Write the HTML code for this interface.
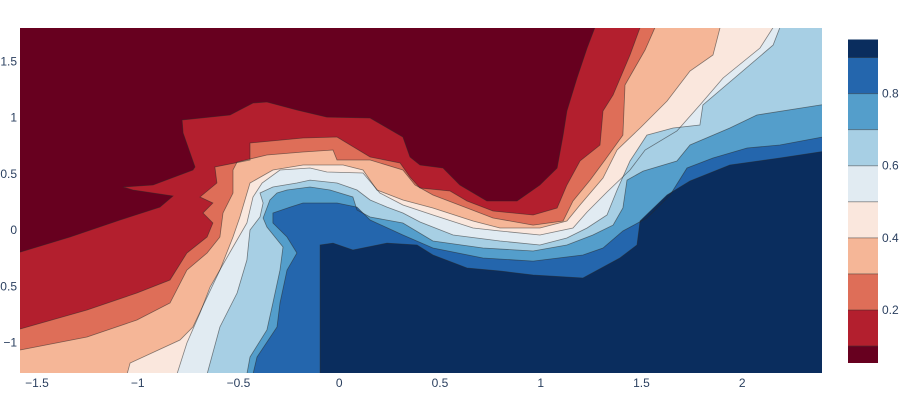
<!DOCTYPE html>
<html><head><meta charset="utf-8"><style>
html,body{margin:0;padding:0;background:#fff;}
svg{display:block;font-family:"Liberation Sans",Arial,sans-serif;}
</style></head><body>
<svg id="chart" width="915" height="407" viewBox="0 0 915 407" xmlns="http://www.w3.org/2000/svg">
<defs><clipPath id="plotclip"><rect x="20" y="28" width="802" height="345"/></clipPath></defs>
<rect x="20" y="28" width="802" height="345" fill="#67001f"/>
<g id="contours" clip-path="url(#plotclip)"></g>
<g id="xaxis"></g>
<g id="yaxis"></g>
<g id="colorbar"></g>
</svg>
<script>
const levels = [0.1,0.2,0.3,0.4,0.5,0.6,0.7,0.8,0.9];
const bandColors = ['#67001f','#b31f2e','#de6e58','#f5b697','#fae7dd','#e1ebf2','#a7cfe4','#549ecb','#2466ad','#0a2d5e'];
const zMin = 0.053, zMax = 0.95;
const xTicks = [-1.5,-1,-0.5,0,0.5,1,1.5,2];
const xTickLabels = ['\u22121.5','\u22121','\u22120.5','0','0.5','1','1.5','2'];
const yTicks = [-1,-0.5,0,0.5,1,1.5];
const yTickLabels = ['\u22121','\u22120.5','0','0.5','1','1.5'];
const cbTicks = [0.2,0.4,0.6,0.8];
// contour boundary curves, data coords: [x,y] pairs; region above level lies to lower-right
const c01 = [[-1.584,-0.196],[-1.336,-0.062],[-1.088,0.089],[-0.890,0.204],[-0.825,0.302],[-1.024,0.356],[-1.073,0.382],[-0.924,0.400],[-0.726,0.533],[-0.716,0.560],[-0.775,0.862],[-0.780,0.978],[-0.542,1.022],[-0.428,1.129],[-0.359,1.138],[-0.210,1.067],[-0.061,1.004],[0.153,0.996],[0.316,0.827],[0.351,0.649],[0.401,0.578],[0.515,0.551],[0.599,0.400],[0.733,0.258],[0.882,0.258],[0.996,0.400],[1.081,0.551],[1.111,0.844],[1.130,1.058],[1.180,1.351],[1.230,1.618],[1.269,1.8]];
const c02 = [[-1.584,-0.880],[-1.252,-0.711],[-1.004,-0.560],[-0.840,-0.444],[-0.756,-0.204],[-0.656,-0.062],[-0.627,0.062],[-0.676,0.151],[-0.627,0.240],[-0.691,0.293],[-0.607,0.418],[-0.617,0.560],[-0.443,0.622],[-0.443,0.773],[-0.180,0.818],[-0.011,0.827],[0.153,0.649],[0.302,0.596],[0.351,0.471],[0.401,0.373],[0.550,0.347],[0.634,0.258],[0.763,0.169],[0.962,0.133],[1.081,0.196],[1.130,0.400],[1.195,0.613],[1.294,0.756],[1.309,1.058],[1.359,1.200],[1.443,1.556],[1.493,1.8]];
const c03 = [[-1.584,-1.067],[-1.252,-0.951],[-1.004,-0.800],[-0.840,-0.649],[-0.756,-0.356],[-0.656,-0.204],[-0.592,-0.062],[-0.577,0.151],[-0.527,0.329],[-0.527,0.533],[-0.507,0.604],[-0.359,0.667],[-0.180,0.693],[-0.031,0.711],[-0.011,0.622],[0.153,0.622],[0.316,0.533],[0.376,0.400],[0.465,0.311],[0.634,0.196],[0.763,0.107],[0.962,0.044],[1.111,0.080],[1.160,0.258],[1.245,0.444],[1.319,0.622],[1.408,0.844],[1.418,1.289],[1.518,1.600],[1.567,1.8]];
const c04 = [[-1.053,-1.28],[-1.038,-1.182],[-0.790,-0.978],[-0.726,-0.862],[-0.656,-0.596],[-0.592,-0.356],[-0.527,-0.062],[-0.493,0.116],[-0.443,0.418],[-0.329,0.533],[-0.180,0.578],[0.019,0.578],[0.118,0.533],[0.187,0.356],[0.316,0.267],[0.465,0.196],[0.664,0.080],[0.798,0.018],[0.996,0.018],[1.130,0.080],[1.195,0.222],[1.309,0.462],[1.379,0.711],[1.493,0.907],[1.627,1.147],[1.741,1.413],[1.855,1.556],[1.890,1.8]];
const c05 = [[-0.805,-1.28],[-0.756,-1.004],[-0.691,-0.738],[-0.641,-0.507],[-0.527,-0.151],[-0.458,0.062],[-0.428,0.293],[-0.383,0.418],[-0.294,0.533],[-0.145,0.551],[-0.061,0.516],[0.118,0.507],[0.202,0.329],[0.316,0.222],[0.465,0.133],[0.664,0.018],[0.798,-0.009],[0.996,-0.044],[1.160,0.018],[1.230,0.160],[1.329,0.338],[1.443,0.533],[1.518,0.711],[1.676,0.880],[1.790,1.111],[1.905,1.351],[2.088,1.618],[2.153,1.8]];
const c06 = [[-0.656,-1.28],[-0.592,-0.862],[-0.507,-0.560],[-0.458,-0.267],[-0.443,0.0],[-0.393,0.116],[-0.378,0.240],[-0.393,0.329],[-0.329,0.382],[-0.210,0.418],[-0.145,0.444],[-0.011,0.418],[0.088,0.356],[0.153,0.267],[0.237,0.204],[0.316,0.151],[0.401,0.071],[0.565,-0.044],[0.798,-0.098],[0.996,-0.133],[1.130,-0.071],[1.230,0.018],[1.329,0.133],[1.379,0.356],[1.443,0.613],[1.527,0.844],[1.657,0.907],[1.790,0.933],[1.805,1.111],[2.153,1.644],[2.187,1.8]];
const c07 = [[-0.458,-1.28],[-0.443,-1.129],[-0.359,-0.889],[-0.329,-0.649],[-0.294,-0.356],[-0.279,-0.151],[-0.359,0.027],[-0.378,0.107],[-0.344,0.267],[-0.309,0.329],[-0.259,0.356],[-0.145,0.382],[-0.046,0.356],[0.068,0.293],[0.088,0.178],[0.153,0.116],[0.316,0.062],[0.465,-0.098],[0.713,-0.160],[0.962,-0.187],[1.130,-0.133],[1.259,-0.044],[1.359,0.044],[1.408,0.196],[1.428,0.444],[1.508,0.524],[1.676,0.613],[1.741,0.756],[1.939,0.907],[2.073,1.022],[2.45,1.129]];
const c08 = [[-0.428,-1.28],[-0.408,-1.129],[-0.309,-0.862],[-0.294,-0.649],[-0.259,-0.356],[-0.210,-0.204],[-0.259,-0.062],[-0.329,0.062],[-0.329,0.151],[-0.244,0.204],[-0.180,0.240],[-0.011,0.240],[0.088,0.204],[0.153,0.089],[0.316,-0.044],[0.465,-0.160],[0.713,-0.249],[0.962,-0.276],[1.210,-0.222],[1.309,-0.160],[1.408,-0.009],[1.527,0.107],[1.642,0.311],[1.726,0.551],[1.855,0.640],[2.024,0.729],[2.187,0.756],[2.45,0.844]];
const c09 = [[-0.095,-1.28],[-0.095,-0.133],[-0.031,-0.116],[0.068,-0.178],[0.237,-0.116],[0.386,-0.133],[0.465,-0.222],[0.634,-0.338],[0.798,-0.364],[0.962,-0.400],[1.210,-0.427],[1.393,-0.249],[1.478,-0.133],[1.493,0.080],[1.627,0.311],[1.741,0.436],[1.939,0.578],[2.187,0.640],[2.45,0.711]];
const curves = [c01,c02,c03,c04,c05,c06,c07,c08,c09];

const xMin=-1.5843, xMax=2.3959, yMin=-1.2711, yMax=1.7956;
const PX0=20, PX1=822, PY0=28, PY1=373;
function sx(x){return PX0+(x-xMin)/(xMax-xMin)*(PX1-PX0);}
function sy(y){return PY1-(y-yMin)/(yMax-yMin)*(PY1-PY0);}
const NS='http://www.w3.org/2000/svg';
function mk(tag,attrs,parent){const e=document.createElementNS(NS,tag);for(const k in attrs)e.setAttribute(k,attrs[k]);parent.appendChild(e);return e;}

const g=document.getElementById('contours');
curves.forEach((c,i)=>{
  const pts=c.slice();
  const first=pts[0], last=pts[pts.length-1];
  if(last[1]>=yMax-0.01) pts.push([2.6,2.0]);
  pts.push([2.6,-1.5]);
  if(first[0]<=xMin+0.01) pts.push([-1.8,-1.5]);
  const poly=mk('polygon',{points:pts.map(p=>sx(p[0]).toFixed(1)+','+sy(p[1]).toFixed(1)).join(' '),fill:bandColors[i+1]},g);
  
  
});
curves.forEach((c,i)=>{
  const line=mk('polyline',{points:c.map(p=>sx(p[0]).toFixed(1)+','+sy(p[1]).toFixed(1)).join(' '),fill:'none',stroke:'rgba(40,40,40,0.55)','stroke-width':'0.8'},g);
  
  
});

const xa=document.getElementById('xaxis');
xTicks.forEach((v,i)=>{
  const t=mk('text',{x:sx(v),y:387,'text-anchor':'middle','font-size':'12',fill:'#2a3f5f'},xa);
  t.textContent=xTickLabels[i];
  
  
});
const ya=document.getElementById('yaxis');
yTicks.forEach((v,i)=>{
  const t=mk('text',{x:17,y:sy(v)+4,'text-anchor':'end','font-size':'12',fill:'#2a3f5f'},ya);
  t.textContent=yTickLabels[i];
  
  
});

const cb=document.getElementById('colorbar');
const CB0=363, CB1=39.5;
function cy(v){return CB0-(v-zMin)/(zMax-zMin)*(CB0-CB1);}
const bounds=[zMin].concat(levels,[zMax]);
for(let i=0;i<bandColors.length;i++){
  const r=mk('rect',{x:848,y:cy(bounds[i+1]),width:30,height:cy(bounds[i])-cy(bounds[i+1]),fill:bandColors[i]},cb);
  
  
}
levels.forEach(v=>{
  const l=mk('line',{x1:848,x2:878,y1:cy(v),y2:cy(v),stroke:'rgba(40,40,40,0.45)','stroke-width':'1'},cb);
  
  
});
cbTicks.forEach(v=>{
  const t=mk('text',{x:882,y:cy(v)+4,'font-size':'12',fill:'#2a3f5f'},cb);
  t.textContent=String(v);
  
  
});
</script>
</body></html>
